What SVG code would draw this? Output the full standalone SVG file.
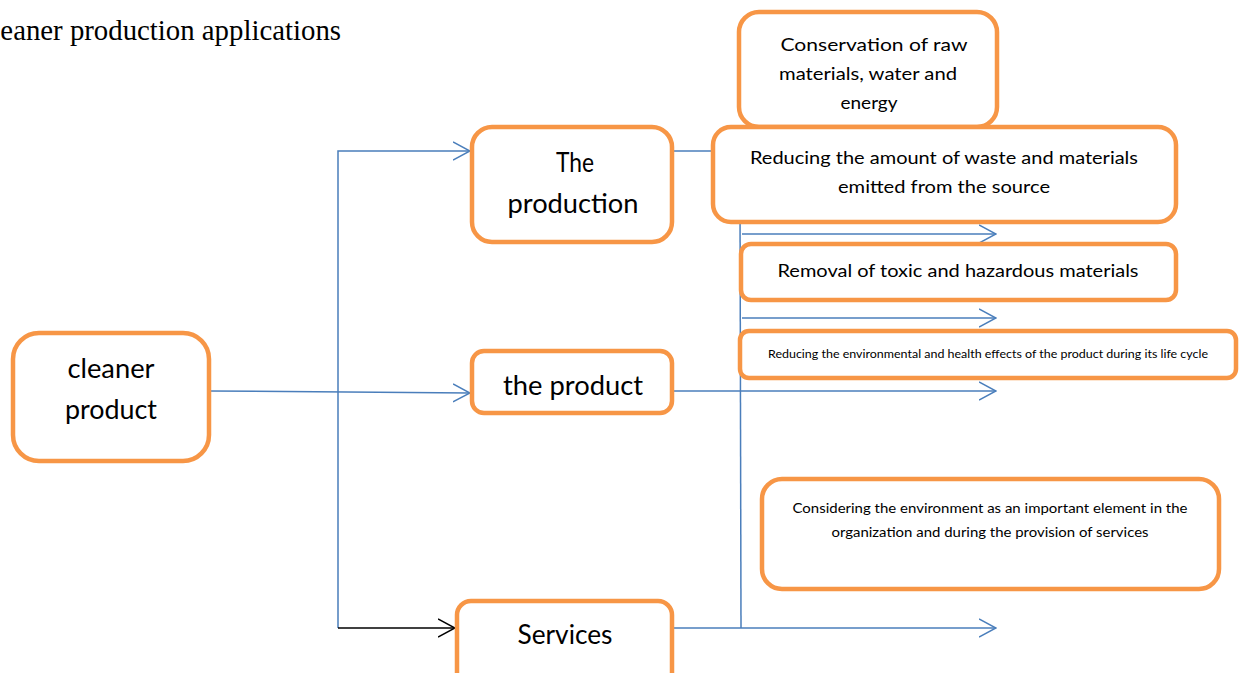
<svg xmlns="http://www.w3.org/2000/svg" width="1243" height="673" viewBox="0 0 1243 673">
<style>
.box{fill:#fff;stroke:#F79646;stroke-width:4.5}
.t{font-family:Lato,"Open Sans","Liberation Sans",sans-serif;fill:#000;text-anchor:middle}
.c{fill:none;stroke:#4A7EBB;stroke-width:1.5}
.k{fill:none;stroke:#000;stroke-width:1.5}
</style>
<defs>
<marker id="ab" viewBox="0 0 18 20" refX="17" refY="10" markerWidth="18" markerHeight="20" markerUnits="userSpaceOnUse" orient="auto">
<path d="M0,1 L17,10 L0,19" fill="none" stroke="#4A7EBB" stroke-width="1.5"/>
</marker>
<marker id="ak" viewBox="0 0 18 20" refX="17" refY="10" markerWidth="18" markerHeight="20" markerUnits="userSpaceOnUse" orient="auto">
<path d="M0,1 L17,10 L0,19" fill="none" stroke="#000" stroke-width="1.5"/>
</marker>
</defs>
<rect width="1243" height="673" fill="#fff"/>
<text x="341" y="40" font-family="'Liberation Serif',serif" font-size="28.8" text-anchor="end">cleaner production applications</text>
<g id="connectors">
<path class="c" d="M209,391 L470,393" marker-end="url(#ab)"/>
<path class="c" d="M338,628 L338,151 L470,151" marker-end="url(#ab)"/>
<path class="k" d="M338,628 L455,628" marker-end="url(#ak)"/>
<path class="c" d="M673,151 L715,151"/>
<path class="c" d="M740,200 L741,628"/>
<path class="c" d="M742,234 L996,234" marker-end="url(#ab)"/>
<path class="c" d="M742,318 L996,318" marker-end="url(#ab)"/>
<path class="c" d="M673,391 L996,391" marker-end="url(#ab)"/>
<path class="c" d="M673,628 L996,628" marker-end="url(#ab)"/>
</g>
<g id="n-cleaner">
<rect class="box" x="13" y="333" width="196" height="128" rx="26"/>
<text class="t" font-size="26" x="111" y="378" textLength="87" lengthAdjust="spacingAndGlyphs">cleaner</text>
<text class="t" font-size="26" x="111" y="419" textLength="92" lengthAdjust="spacingAndGlyphs">product</text>
</g>
<g id="n-production">
<rect class="box" x="472" y="127" width="200" height="115" rx="20"/>
<text class="t" font-size="26" x="575" y="172" textLength="38" lengthAdjust="spacingAndGlyphs">The</text>
<text class="t" font-size="26" x="573" y="213" textLength="131" lengthAdjust="spacingAndGlyphs">production</text>
</g>
<g id="n-product">
<rect class="box" x="472" y="351" width="200" height="62" rx="12"/>
<text class="t" font-size="26" x="573" y="395" textLength="140" lengthAdjust="spacingAndGlyphs">the product</text>
</g>
<g id="n-services">
<rect class="box" x="457" y="601" width="215" height="90" rx="14"/>
<text class="t" font-size="26" x="565" y="644" textLength="95" lengthAdjust="spacingAndGlyphs">Services</text>
</g>
<g id="n-conservation">
<rect class="box" x="739" y="12" width="258" height="115" rx="20"/>
<text class="t" font-size="18" x="874" y="51" textLength="187" lengthAdjust="spacingAndGlyphs">Conservation of raw</text>
<text class="t" font-size="18" x="868" y="80" textLength="178" lengthAdjust="spacingAndGlyphs">materials, water and</text>
<text class="t" font-size="18" x="869" y="109" textLength="57" lengthAdjust="spacingAndGlyphs">energy</text>
</g>
<g id="n-waste">
<rect class="box" x="713" y="127" width="463" height="95" rx="18"/>
<text class="t" font-size="18" x="944" y="164" textLength="388" lengthAdjust="spacingAndGlyphs">Reducing the amount of waste and materials</text>
<text class="t" font-size="18" x="944" y="193" textLength="212" lengthAdjust="spacingAndGlyphs">emitted from the source</text>
</g>
<g id="n-removal">
<rect class="box" x="741" y="244" width="435" height="56" rx="10"/>
<text class="t" font-size="18" x="958" y="277" textLength="361" lengthAdjust="spacingAndGlyphs">Removal of toxic and hazardous materials</text>
</g>
<g id="n-health">
<rect class="box" x="740" y="331" width="496" height="47" rx="9"/>
<text class="t" font-size="11" x="988" y="358" textLength="440" lengthAdjust="spacingAndGlyphs">Reducing the environmental and health effects of the product during its life cycle</text>
</g>
<g id="n-services-env">
<rect class="box" x="762" y="479" width="457" height="110" rx="20"/>
<text class="t" font-size="13.5" x="990" y="513" textLength="395" lengthAdjust="spacingAndGlyphs">Considering the environment as an important element in the</text>
<text class="t" font-size="13.5" x="990" y="537" textLength="317" lengthAdjust="spacingAndGlyphs">organization and during the provision of services</text>
</g>
</svg>
